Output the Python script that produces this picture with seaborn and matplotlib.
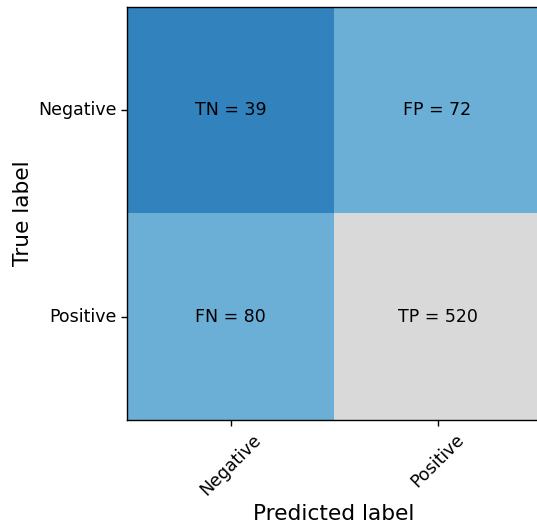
import numpy as np
import pandas as pd
import matplotlib
matplotlib.use("Agg")
import matplotlib.pyplot as plt
import seaborn as sns

# Etykiety klas i wartości macierzy pomyłek
class_names = ["Negative", "Positive"]
cell_names = [["TN", "FP"], ["FN", "TP"]]
cell_values = [[39, 72], [80, 520]]

cm = pd.DataFrame(cell_values, index=class_names, columns=class_names)
annot = np.array([[f"{n} = {v}" for n, v in zip(rn, rv)]
                  for rn, rv in zip(cell_names, cell_values)])

fig = plt.figure(figsize=(5.37, 5.25), dpi=100)
ax = fig.add_axes([0.2365, 0.2, 0.771, 0.787])

sns.heatmap(cm, annot=annot, fmt="", cmap="tab20c", cbar=False, ax=ax,
            annot_kws={"fontsize": 12.5, "color": "black"})

for s in ax.spines.values():
    s.set_visible(True)
    s.set_color("black")
    s.set_linewidth(1.0)

ax.tick_params(axis="both", length=4, width=1, labelsize=12.5)
plt.setp(ax.get_xticklabels(), rotation=45, ha="center")
plt.setp(ax.get_yticklabels(), rotation=0)

ax.set_xlabel("Predicted label", fontsize=15.6)
ax.set_ylabel("True label", fontsize=15.6)

fig.savefig("out.png", dpi=100)
